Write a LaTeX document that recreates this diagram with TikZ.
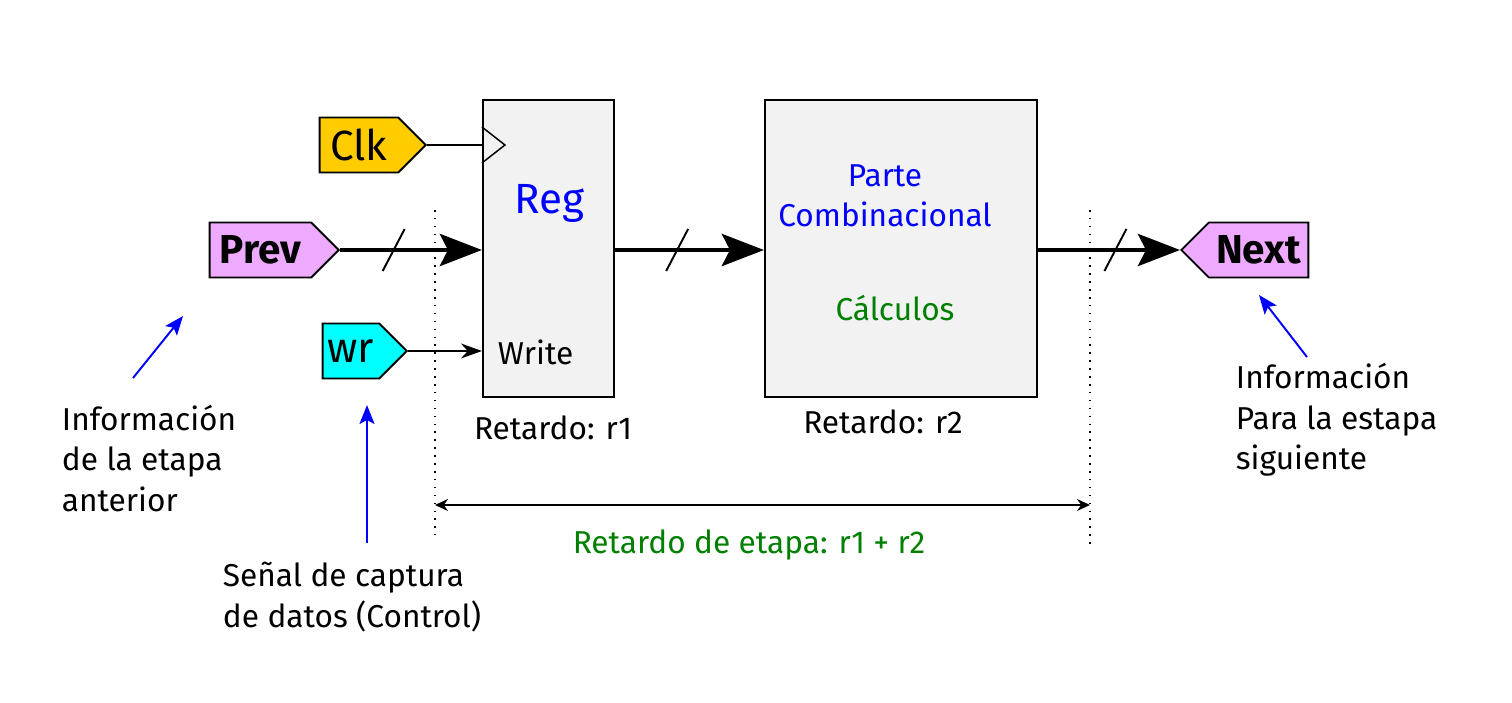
\documentclass[tikz,border=0pt]{standalone}
\usepackage{fontspec}
\setmainfont{Fira Sans}
\usetikzlibrary{shapes.symbols,arrows.meta,calc}
\definecolor{clkfill}{HTML}{FFCC00}
\definecolor{datafill}{HTML}{EEAAFF}
\definecolor{wrfill}{HTML}{00FFFF}
\definecolor{boxfill}{HTML}{F2F2F2}
\definecolor{darkgreen}{HTML}{008000}

\begin{document}
\begin{tikzpicture}[line width=1.1pt,
  txt/.style={font=\fontsize{18}{23}\selectfont, inner sep=0pt, align=left},
  block/.style={draw, fill=boxfill, line width=1.2pt, minimum height=5.94cm},
  tag/.style={signal, draw, line width=1.1pt, font=\fontsize{24}{28}\selectfont,
    inner sep=0pt, minimum height=1.1cm},
  bus/.style={line width=2.8pt, -{Stealth[length=8.4mm,width=6.4mm,inset=1.6mm]}},
  wire/.style={line width=0.85pt},
  busmark/.style={line width=1.1pt},
  note/.style={blue, line width=1.1pt, -{Stealth[length=3.8mm,width=3mm,inset=0.8mm]}},
  bound/.style={line width=0.9pt, dash pattern=on 0.9pt off 3.6pt},
  span/.style={line width=0.85pt,
    {Stealth[length=2.6mm,width=2.4mm]}-{Stealth[length=2.6mm,width=2.4mm]}},
]
  \useasboundingbox (0,0) rectangle (30.24,-14.06);

  % blocks of the stage
  \node[block, minimum width=2.62cm] (reg) at (10.97,-4.97) {};
  \node[block, minimum width=5.44cm] (comb) at (18.02,-4.97) {};
  \node[txt, font=\fontsize{24}{28}\selectfont, blue] (regname) at (10.98,-4.06) {Reg};
  \node[txt, anchor=west] (write) at (9.94,-7.04) {Write};
  \node[txt, blue, align=center] (combname) at (17.70,-3.92) {Parte\\Combinacional};
  \node[txt, darkgreen] (calc) at (17.90,-6.16) {Cálculos};
  \node[txt] (delay1) at (11.06,-8.56) {Retardo: r1};
  \node[txt] (delay2) at (17.66,-8.44) {Retardo: r2};

  % signals
  \node[tag, fill=clkfill, minimum width=2.12cm, anchor=east] (clk) at (8.54,-2.90) {Clk};
  \node[tag, fill=datafill, minimum width=2.58cm, anchor=east, font=\fontsize{23}{27}\selectfont\bfseries] (prev) at (6.80,-5.00) {Prev};
  \node[tag, fill=wrfill, minimum width=1.68cm, anchor=east] (wr) at (8.16,-7.02) {wr};
  \node[tag, signal to=west, fill=datafill, minimum width=2.54cm, anchor=west, font=\fontsize{23}{27}\selectfont\bfseries] (next) at (23.60,-5.00) {Next};

  % clock input
  \coordinate (clkin) at (clk.east -| reg.west);
  \draw[wire] (clk.east) -- (clkin);
  \draw[wire] ($(clkin)+(0,0.36)$) -- ($(clkin)+(0.46,0)$) -- ($(clkin)+(0,-0.36)$);

  % data path
  \draw[bus] (prev.east) -- coordinate[pos=0.378] (m1) (prev.east -| reg.west);
  \draw[bus] (prev.east -| reg.east) -- coordinate[pos=0.417] (m2) (prev.east -| comb.west);
  \draw[bus] (prev.east -| comb.east) -- coordinate[pos=0.545] (m3) (next.west);
  \draw[busmark] ($(m1)+(-0.22,-0.42)$) -- ++(0.44,0.84);
  \draw[busmark] ($(m2)+(-0.22,-0.42)$) -- ++(0.44,0.84);
  \draw[busmark] ($(m3)+(-0.22,-0.42)$) -- ++(0.44,0.84);
  \draw[wire, -{Stealth[length=4.2mm,width=3mm]}] (wr.east) -- (wr.east -| reg.west);

  % stage limits
  \coordinate (left top) at (8.70,-4.20);
  \coordinate (left bot) at (8.70,-10.70);
  \coordinate (right top) at (21.80,-4.20);
  \coordinate (right bot) at (21.80,-11.00);
  \draw[bound] (left top) -- (left bot);
  \draw[bound] (right top) -- (right bot);
  \draw[span] (8.70,-10.10) coordinate (dl) -- (21.80,-10.10) coordinate (dr);
  \node[txt, darkgreen] (delaystage) at (14.98,-10.90) {Retardo de etapa: r1 + r2};

  % notes
  \node[txt, anchor=west] (infoprev) at (1.22,-9.17) {Información\\de la etapa\\anterior};
  \node[txt, anchor=west] (infoctl) at (4.44,-11.94) {Señal de captura\\de datos (Control)};
  \node[txt, anchor=west] (infonext) at (24.70,-8.40) {Información\\Para la estapa\\siguiente};
  \coordinate (n1) at (2.66,-7.56);
  \coordinate (n1t) at (3.66,-6.32);
  \coordinate (n2) at (7.34,-10.86);
  \coordinate (n2t) at (7.34,-8.10);
  \coordinate (n3) at (26.14,-7.14);
  \coordinate (n3t) at (25.18,-5.90);
  \draw[note] (n1) -- (n1t);
  \draw[note] (n2) -- (n2t);
  \draw[note] (n3) -- (n3t);
\end{tikzpicture}
\end{document}
